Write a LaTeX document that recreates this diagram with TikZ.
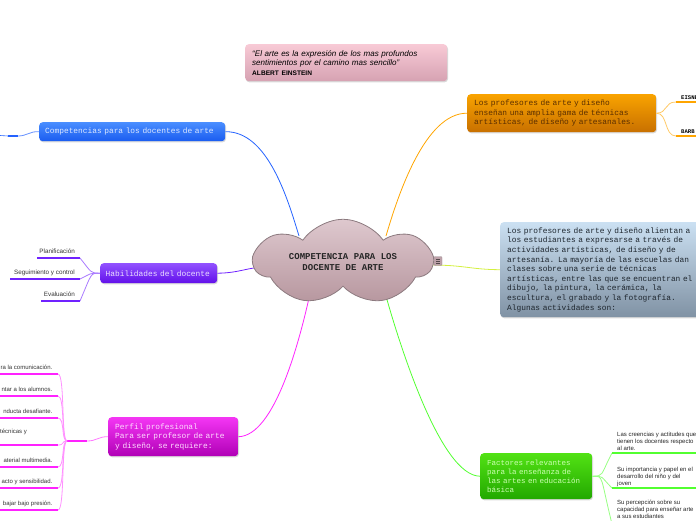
\documentclass[tikz,border=0pt]{standalone}
\usepackage{fontspec}
\setmainfont{Liberation Sans}
\newfontfamily\monof{Liberation Mono}
\usetikzlibrary{shapes.symbols,shadows,backgrounds}
\definecolor{or1}{HTML}{F9A300}
\definecolor{or2}{HTML}{C87000}
\definecolor{orT}{HTML}{5A2E00}
\definecolor{gy1}{HTML}{CBE0F2}
\definecolor{gy2}{HTML}{8092A4}
\definecolor{gyT}{HTML}{1E262E}
\definecolor{bl1}{HTML}{4A8EFF}
\definecolor{bl2}{HTML}{1A5CF0}
\definecolor{blT}{HTML}{DDE8FF}
\definecolor{pu1}{HTML}{9252FF}
\definecolor{pu2}{HTML}{6210EA}
\definecolor{puT}{HTML}{ECE0FF}
\definecolor{mg1}{HTML}{F436F4}
\definecolor{mg2}{HTML}{B000B6}
\definecolor{mgT}{HTML}{FFDCFF}
\definecolor{gr1}{HTML}{52E214}
\definecolor{gr2}{HTML}{22A800}
\definecolor{grT}{HTML}{CCFFB4}
\definecolor{qt1}{HTML}{F8CAD6}
\definecolor{qt2}{HTML}{D6A2B2}
\definecolor{cl1}{HTML}{DEC8CE}
\definecolor{cl2}{HTML}{B7979F}
\definecolor{clB}{HTML}{8C7A7F}
\definecolor{cBlue}{HTML}{2462FF}
\definecolor{cOr}{HTML}{FFA500}
\definecolor{cPu}{HTML}{7022FF}
\definecolor{cYe}{HTML}{D4F040}
\definecolor{cMg}{HTML}{FF22FF}
\definecolor{cGr}{HTML}{52FF30}
\tikzset{
  mbox/.style={rounded corners=3.5pt, anchor=north west, inner xsep=7pt, inner ysep=0pt,
    align=left, font={\monof\fontsize{7.85}{9.6}\selectfont\hyphenpenalty=10000},
    drop shadow={opacity=0.3,shadow xshift=0.8pt,shadow yshift=-1.2pt}},
  conn/.style={line width=0.8pt},
  uline/.style={line width=2.2pt},
  lbl/.style={font=\fontsize{6.3}{7.2}\selectfont, text=black!80, inner sep=0pt},
  mlbl/.style={font=\fontsize{6.0}{7.2}\selectfont, text=black!80, inner sep=0pt},
  glbl/.style={font=\fontsize{6.0}{7.1}\selectfont, text=black!85, inner sep=0pt, align=left, anchor=north west},
}
\begin{document}
\begin{tikzpicture}[x=1pt,y=-1pt]
\useasboundingbox (0,0) rectangle (696,520);

% quote
\node[mbox, top color=qt1, bottom color=qt2, minimum height=37pt, text width=188pt,
  font=\fontsize{8.05}{9.4}\selectfont, text=black] (quote) at (245,44)
  {\textit{“El arte es la expresión de los mas profundos}\\
   \textit{sentimientos por el camino mas sencillo”}\\
   {\fontsize{6.6}{8}\selectfont\bfseries ALBERT EINSTEIN}};

% main boxes
\node[mbox, top color=or1, bottom color=or2, text=orT, minimum height=38pt, text width=175pt] (obox) at (467,94)
  {Los profesores de arte y diseño\\enseñan una amplia gama de técnicas\\artísticas, de diseño y artesanales.};
\node[mbox, top color=gy1, bottom color=gy2, text=gyT, minimum height=95pt, text width=205pt] (gbox) at (500,222)
  {Los profesores de arte y diseño alientan a\\los estudiantes a expresarse a través de\\actividades artísticas, de diseño y de\\artesanía. La mayoría de las escuelas dan\\clases sobre una serie de técnicas\\artísticas, entre las que se encuentran el\\dibujo, la pintura, la cerámica, la\\escultura, el grabado y la fotografía.\\Algunas actividades son:};
\node[mbox, top color=bl1, bottom color=bl2, text=blT, minimum height=19pt, text width=174pt, inner xsep=6pt] (bbox) at (39,122)
  {Competencias para los docentes de arte};
\node[mbox, top color=pu1, bottom color=pu2, text=puT, minimum height=20pt, text width=106pt, inner xsep=5.5pt] (pbox) at (100,263)
  {Habilidades del docente};
\node[mbox, top color=mg1, bottom color=mg2, text=mgT, minimum height=39pt, text width=116pt] (mbox) at (108,417)
  {Perfil profesional\\Para ser profesor de arte\\y diseño, se requiere:};
\node[mbox, top color=gr1, bottom color=gr2, text=grT, minimum height=46pt, text width=98pt,
  font=\monof\fontsize{7.5}{9.1}\selectfont] (grbox) at (480,453)
  {Factores relevantes\\para la enseñanza de\\las artes en educación\\básica};

% cloud
\node[cloud, cloud puffs=7, cloud puff arc=110, aspect=2.7, minimum width=178pt, minimum height=64pt,
  draw=clB, line width=0.8pt, top color=cl1, bottom color=cl2, inner sep=0pt, align=center,
  font=\monof\bfseries\fontsize{9}{11.6}\selectfont, text=black!85] (cloud) at (343,262)
  {COMPETENCIA PARA LOS\\DOCENTE DE ARTE};

% icon
\node[draw=clB!80, fill=cl2!90, rounded corners=1pt, minimum width=8pt, minimum height=9pt, inner sep=0pt] (icon) at (438,261) {};
\foreach \yy in {-2,0,2} \draw[line width=0.6pt, clB!60!black] ([xshift=-2pt,yshift=\yy pt]icon.center) -- ([xshift=2pt,yshift=\yy pt]icon.center);

% coordinates on cloud border
\coordinate (cB) at (299,236);
\coordinate (cO) at (386,236);
\coordinate (cP) at (266,267);
\coordinate (cY) at (430,265);
\coordinate (cM) at (311,289);
\coordinate (cG) at (384,289);

% other coordinates
\coordinate (bsA) at (18,136);
\coordinate (bsB) at (8,136);
\coordinate (bsC) at (0,135.5);
\coordinate (e1) at (676,102);
\coordinate (e2) at (676,136);
\coordinate (p1) at (80,258);
\coordinate (p2) at (80,279);
\coordinate (p3) at (80,301);
\coordinate (mh1) at (67,441);
\coordinate (mh2) at (87,441);
\coordinate (g1) at (612,453);
\coordinate (g2) at (612,488);
\coordinate (g3) at (612,524);

\begin{scope}[on background layer]
\draw[conn, cBlue] (bbox.east) .. controls (268,131) and (288,200) .. (cB);
\draw[conn, cOr] (obox.west) .. controls (425,113) and (398,195) .. (cO);
\draw[conn, cPu] (pbox.east) .. controls (240,273) and (248,267) .. (cP);
\draw[conn, cYe] (cY) .. controls (465,265) and (470,269.5) .. (gbox.west);
\draw[conn, cMg] (mbox.east) .. controls (275,436) and (300,340) .. (cM);
\draw[conn, cGr] (cG) .. controls (398,340) and (440,476) .. (grbox.west);
\end{scope}

% blue stub
\draw[conn, cBlue!70] (bbox.west) .. controls (30,131) and (27,136) .. (bsA);
\draw[uline, cBlue] (bsA) -- (bsB);
\draw[line width=0.6pt, cBlue] (bsB) -- (bsC);

% orange children
\draw[conn, cOr!60] (obox.east) .. controls (668,113) and (664,102) .. (e1);
\draw[conn, cOr!60] (obox.east) .. controls (668,113) and (664,136) .. (e2);
\draw[uline, cOr] (e1) -- ++(24,0);
\draw[uline, cOr] (e2) -- ++(24,0);
\node[font=\monof\bfseries\fontsize{5.6}{7}\selectfont, anchor=south west, inner sep=0pt] (eis) at (681,100) {EISNER};
\node[font=\monof\bfseries\fontsize{5.6}{7}\selectfont, anchor=south west, inner sep=0pt] (barb) at (681,134) {BARB};

% purple children
\foreach \c in {p1,p2,p3} \draw[conn, cPu!60] (pbox.west) .. controls (90,273) and (92,273) .. (\c);
\draw[uline, cPu] (p1) -- (37,258);
\draw[uline, cPu] (p2) -- (10,279);
\draw[uline, cPu] (p3) -- (41,301);
\node[lbl, anchor=east] (lp1) at (75,251.5) {Planificación};
\node[lbl, anchor=east] (lp2) at (75,272.5) {Seguimiento y control};
\node[lbl, anchor=east] (lp3) at (75,294.5) {Evaluación};

% magenta children
\draw[conn, cMg!60] (mh2) .. controls (97,441) and (98,436.5) .. (mbox.west);
\draw[uline, cMg] (mh1) -- (mh2);
\foreach \yy/\nm in {374/m1,396/m2,418/m3,445/m4,467/m5,488/m6,510/m7}{
  \coordinate (\nm) at (58,\yy);
  \draw[conn, cMg!50] (mh1) .. controls (61,441) and (65,\yy) .. (\nm);
  \draw[uline, cMg] (\nm) -- (-2,\yy);
}
\node[mlbl, anchor=east] (t1) at (52.5,367.5) {ra la comunicación.};
\node[mlbl, anchor=east] (t2) at (52.5,389.5) {ntar a los alumnos.};
\node[mlbl, anchor=east] (t3) at (52.5,411) {nducta desafiante.};
\node[mlbl, anchor=west] (t4) at (0,432) {técnicas y};
\node[mlbl, anchor=east] (t5) at (52.5,460.5) {aterial multimedia.};
\node[mlbl, anchor=east] (t6) at (52.5,481.5) {acto y sensibilidad.};
\node[mlbl, anchor=east] (t7) at (52.5,503.5) {bajar bajo presión.};

% green children
\foreach \c in {g1,g2,g3} \draw[conn, cGr!60] (grbox.east) .. controls (604,476) and (600,476) .. (\c);
\draw[uline, cGr] (g1) -- ++(90,0);
\draw[uline, cGr] (g2) -- ++(90,0);
\draw[uline, cGr] (g3) -- ++(90,0);
\node[glbl] (gl1) at (617,431.5) {Las creencias y actitudes que\\tienen los docentes respecto\\al arte.};
\node[glbl] (gl2) at (617,466.5) {Su importancia y papel en el\\desarrollo del niño y del\\joven};
\node[glbl] (gl3) at (617,500) {Su percepción sobre su\\capacidad para enseñar arte\\a sus estudiantes};
\end{tikzpicture}
\end{document}
